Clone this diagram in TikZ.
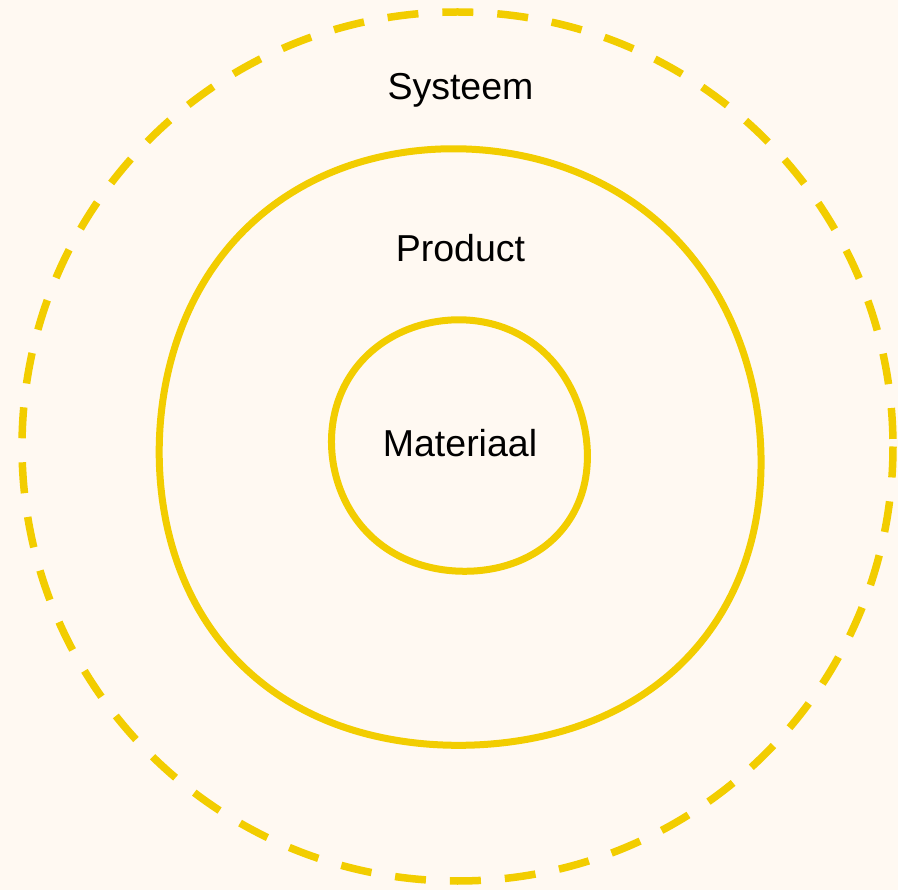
\documentclass[tikz,border=0pt]{standalone}
\usepackage{fontspec}
\setmainfont{Liberation Sans}
\definecolor{bgcream}{RGB}{255,249,242}
\definecolor{ringyellow}{RGB}{242,205,0}
\begin{document}
\begin{tikzpicture}[x=1pt,y=-1pt,
  declare function={
    rmid(\t)=302.75-0.85*cos(\t)+2.24*sin(\t)+1.25*cos(2*\t)+1.73*sin(2*\t)
             +0.83*cos(3*\t)+2.17*sin(3*\t)-3.25*cos(4*\t)+0.29*sin(4*\t);
    rin(\t)=127.6-0.14*cos(\t)-0.72*sin(\t)+1.03*cos(2*\t)+2.27*sin(2*\t)
             -0.5*cos(3*\t)+0.78*sin(3*\t)-0.86*cos(4*\t)+0.54*sin(4*\t);
  },
  ring/.style={draw=ringyellow,line width=7pt,line join=round},
  dashring/.style={draw=ringyellow,line width=7.5pt,dash pattern=on 31pt off 24pt},
  lbl/.style={font=\fontsize{37.5}{40}\selectfont,text=black,inner sep=0pt,anchor=base}]
\fill[bgcream] (0,0) rectangle (898,890);
\useasboundingbox (0,0) rectangle (898,890);
% outer dashed ring
\draw[dashring] (457.5,446.5) ellipse [x radius=435.5, y radius=434.5];
% middle ring
\draw[ring] plot[domain=0:358, samples=180, smooth cycle]
  ({460+rmid(\x)*cos(\x)}, {447+rmid(\x)*sin(\x)});
% inner ring
\draw[ring] plot[domain=0:358, samples=180, smooth cycle]
  ({460+rin(\x)*cos(\x)}, {447+rin(\x)*sin(\x)});
\node[lbl] (systeem) at (460.5,99.3) {Systeem};
\node[lbl] (product) at (460.5,261.5) {Product};
\node[lbl] (materiaal) at (460,456.6) {Materiaal};
\end{tikzpicture}
\end{document}
